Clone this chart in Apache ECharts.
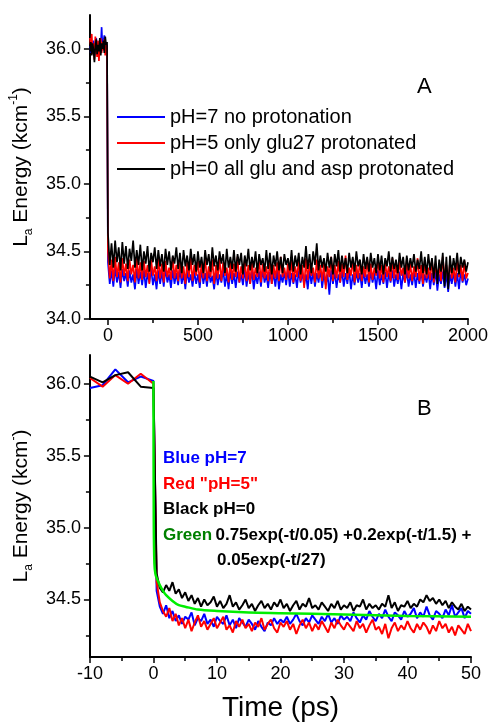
<!DOCTYPE html>
<html>
<head>
<meta charset="utf-8">
<script src="https://cdn.jsdelivr.net/npm/echarts@6/dist/echarts.min.js"></script>
<style>
  html, body { margin: 0; padding: 0; background: #fff; }
  #chart { width: 491px; height: 724px; }
</style>
</head>
<body>
<div id="chart"></div>
<script>
// panel A: -100..-5 ps every 5 ps, then 0..2000 ps every 10 ps
const blueApre = [36.02,35.97,36.05,35.99,36.06,35.95,36.03,36.08,35.98,36.04,35.96,36.07,36.01,36.16,35.99,36.05,36.10,35.98,36.04,36.02]
const redApre = [36.08,36.02,36.11,35.96,36.04,35.92,36.09,36.00,35.94,36.06,35.91,36.03,36.08,35.97,36.05,35.99,36.07,35.95,36.03,36.00]
const blackApre = [35.98,36.05,35.95,36.04,35.99,35.90,36.02,36.07,35.96,36.03,35.98,36.08,35.95,36.04,36.00,36.06,35.97,36.09,36.03,36.05]

const blueA = [34.42,34.26,34.36,34.24,34.38,34.27,34.35,34.23,34.37,34.28,
  34.34,34.24,34.36,34.27,34.33,34.22,34.37,34.26,34.35,34.25,
  34.36,34.23,34.34,34.27,34.37,34.25,34.33,34.22,34.36,34.26,
  34.35,34.24,34.38,34.27,34.33,34.23,34.36,34.26,34.34,34.25,
  34.37,34.26,34.34,34.22,34.36,34.27,34.33,34.24,34.35,34.26,
  34.33,34.23,34.37,34.26,34.34,34.24,34.36,34.27,34.32,34.22,
  34.35,34.25,34.33,34.27,34.37,34.24,34.34,34.22,34.36,34.26,
  34.34,34.23,34.35,34.27,34.33,34.25,34.37,34.24,34.34,34.26,
  34.36,34.22,34.33,34.26,34.35,34.24,34.37,34.27,34.33,34.23,
  34.35,34.26,34.34,34.24,34.36,34.22,34.33,34.27,34.35,34.25,
  34.37,34.24,34.34,34.26,34.33,34.23,34.36,34.27,34.34,34.25,
  34.33,34.22,34.36,34.26,34.35,34.24,34.34,34.27,34.37,34.23,
  34.34,34.25,34.33,34.18,34.36,34.26,34.35,34.23,34.33,34.27,
  34.36,34.24,34.34,34.26,34.37,34.22,34.33,34.25,34.35,34.27,
  34.34,34.23,34.36,34.26,34.33,34.24,34.35,34.27,34.34,34.22,
  34.36,34.25,34.33,34.26,34.35,34.23,34.34,34.27,34.36,34.24,
  34.33,34.26,34.35,34.22,34.34,34.27,34.36,34.24,34.33,34.25,
  34.35,34.23,34.34,34.26,34.36,34.24,34.33,34.27,34.35,34.22,
  34.34,34.25,34.36,34.21,34.33,34.26,34.35,34.23,34.34,34.20,
  34.33,34.26,34.35,34.24,34.34,34.22,34.36,34.27,34.33,34.25,
  34.30]
const redA = [34.50,34.30,34.44,34.28,34.46,34.31,34.42,34.27,34.45,34.32,
  34.41,34.28,34.44,34.33,34.40,34.27,34.46,34.30,34.42,34.29,
  34.43,34.31,34.40,34.26,34.44,34.32,34.39,34.28,34.45,34.30,
  34.41,34.27,34.43,34.31,34.38,34.29,34.46,34.30,34.40,34.28,
  34.44,34.30,34.39,34.26,34.42,34.31,34.45,34.28,34.40,34.32,
  34.43,34.27,34.41,34.30,34.46,34.28,34.39,34.31,34.44,34.26,
  34.40,34.30,34.45,34.28,34.42,34.32,34.38,34.27,34.43,34.29,
  34.41,34.31,34.46,34.27,34.39,34.30,34.44,34.28,34.40,34.26,
  34.43,34.29,34.38,34.31,34.45,34.27,34.41,34.30,34.39,34.28,
  34.44,34.26,34.40,34.30,34.42,34.28,34.46,34.31,34.38,34.29,
  34.41,34.30,34.44,34.27,34.39,34.31,34.43,34.28,34.40,34.23,
  34.45,34.29,34.41,34.32,34.38,34.27,34.44,34.30,34.40,34.28,
  34.42,34.22,34.39,34.31,34.46,34.28,34.40,34.30,34.43,34.27,
  34.41,34.31,34.47,34.29,34.38,34.32,34.44,34.27,34.40,34.30,
  34.43,34.28,34.39,34.31,34.45,34.27,34.41,34.29,34.38,34.32,
  34.44,34.30,34.40,34.27,34.42,34.31,34.39,34.28,34.45,34.30,
  34.40,34.29,34.43,34.32,34.38,34.27,34.44,34.30,34.41,34.28,
  34.39,34.31,34.45,34.28,34.40,34.26,34.43,34.30,34.38,34.29,
  34.44,34.27,34.41,34.31,34.39,34.28,34.46,34.30,34.40,34.26,
  34.42,34.30,34.38,34.27,34.44,34.31,34.40,34.28,34.43,34.30,
  34.34]
const blackA = [34.64,34.40,34.56,34.38,34.58,34.42,34.53,34.36,34.57,34.41,
  34.54,34.37,34.52,34.43,34.58,34.38,34.51,34.40,34.55,34.36,
  34.50,34.41,34.54,34.35,34.49,34.42,34.53,34.37,34.51,34.39,
  34.48,34.35,34.52,34.40,34.50,34.36,34.47,34.41,34.53,34.37,
  34.49,34.34,34.51,34.39,34.47,34.36,34.52,34.40,34.48,34.35,
  34.50,34.38,34.46,34.34,34.51,34.40,34.48,34.35,34.53,34.39,
  34.47,34.36,34.50,34.41,34.48,34.34,34.52,34.38,34.46,34.37,
  34.51,34.35,34.48,34.40,34.49,34.33,34.47,34.39,34.52,34.36,
  34.46,34.38,34.50,34.34,34.48,34.40,34.45,34.35,34.51,34.37,
  34.49,34.33,34.47,34.39,34.50,34.36,34.46,34.34,34.48,34.40,
  34.45,34.36,34.51,34.35,34.47,34.39,34.49,34.33,34.46,34.38,
  34.54,34.37,34.48,34.34,34.50,34.40,34.56,34.36,34.47,34.38,
  34.45,34.35,34.49,34.38,34.46,34.33,34.48,34.39,34.51,34.35,
  34.47,34.37,34.45,34.34,34.49,34.38,34.46,34.35,34.50,34.39,
  34.44,34.33,34.48,34.37,34.46,34.35,34.49,34.38,34.45,34.34,
  34.48,34.36,34.47,34.33,34.45,34.39,34.50,34.35,34.46,34.37,
  34.44,34.34,34.49,34.38,34.46,34.33,34.47,34.36,34.45,34.38,
  34.48,34.35,34.44,34.37,34.50,34.34,34.46,34.33,34.48,34.36,
  34.45,34.30,34.47,34.26,34.44,34.35,34.49,34.24,34.46,34.22,
  34.47,34.34,34.45,34.36,34.49,34.33,34.46,34.38,34.44,34.35,
  34.42]

// panel B: -10..0 ps every 2 ps, then 0.5..50 ps every 0.5 ps
const timesBpre = [-10,-8,-6,-4,-2,0]
const blueBpre = [35.97,35.99,36.10,36.01,36.05,36.02]
const redBpre = [36.04,35.98,36.06,36.00,36.07,36.00]
const blackBpre = [36.05,36.01,36.06,36.08,35.98,35.97]

const blueB = [34.56,34.45,34.40,34.46,34.37,34.42,34.35,34.39,34.33,34.38,
  34.36,34.41,34.32,34.37,34.35,34.40,34.33,34.36,34.31,34.38,
  34.35,34.33,34.39,34.32,34.36,34.30,34.37,34.34,34.31,34.36,
  34.33,34.29,34.35,34.31,34.28,34.34,34.32,34.37,34.33,34.36,
  34.34,34.38,34.33,34.36,34.40,34.35,34.32,34.37,34.34,34.39,
  34.36,34.33,34.38,34.35,34.40,34.34,34.37,34.33,34.39,34.36,
  34.38,34.35,34.41,34.37,34.34,34.39,34.36,34.42,34.38,34.35,
  34.40,34.37,34.43,34.38,34.35,34.41,34.39,34.36,34.42,34.38,
  34.40,34.44,34.37,34.41,34.38,34.45,34.39,34.36,34.42,34.40,
  34.37,34.43,34.39,34.46,34.38,34.41,34.44,34.37,34.42,34.40]
const redB = [34.62,34.48,34.42,34.38,34.44,34.35,34.40,34.32,34.37,34.30,
  34.36,34.28,34.34,34.39,34.31,34.35,34.29,34.33,34.37,34.30,
  34.34,34.38,34.29,34.32,34.27,34.35,34.31,34.36,34.30,34.33,
  34.28,34.34,34.31,34.37,34.29,34.33,34.36,34.30,34.27,34.34,
  34.31,34.35,34.29,34.33,34.26,34.32,34.36,34.30,34.34,34.28,
  34.33,34.29,34.35,34.31,34.27,34.34,34.30,34.36,34.32,34.29,
  34.34,34.31,34.28,34.35,34.30,34.33,34.27,34.32,34.36,34.29,
  34.31,34.26,34.33,34.23,34.30,34.34,34.28,34.32,34.29,34.35,
  34.30,34.27,34.33,34.29,34.34,34.31,34.26,34.32,34.28,34.35,
  34.30,34.33,34.27,34.31,34.25,34.32,34.29,34.26,34.33,34.28]
const blackB = [34.68,34.58,34.55,34.60,34.56,34.62,34.54,34.57,34.51,34.55,
  34.49,34.53,34.47,34.51,34.45,34.50,34.46,34.48,34.52,34.45,
  34.49,34.44,34.47,34.53,34.45,34.48,34.43,34.46,34.50,34.44,
  34.47,34.42,34.46,34.49,34.44,34.47,34.43,34.48,34.45,34.50,
  34.44,34.47,34.42,34.46,34.49,34.43,34.47,34.45,34.51,34.44,
  34.46,34.43,34.48,34.45,34.42,34.47,34.44,34.49,34.43,34.46,
  34.44,34.48,34.42,34.46,34.45,34.50,34.43,34.47,34.44,34.46,
  34.43,34.47,34.45,34.53,34.44,34.48,34.42,34.46,34.45,34.49,
  34.44,34.47,34.45,34.50,34.48,34.53,34.49,34.51,34.47,34.50,
  34.46,34.49,34.44,34.48,34.45,34.43,34.47,34.42,34.45,34.43]

// green fit curve
const greenT = [0, 0.05, 0.15, 0.3, 0.5, 1, 1.5, 2, 3, 4, 5, 7, 10, 15, 20, 30, 40, 50]
const greenV = [36.02, 35.05, 34.75, 34.68, 34.65, 34.60, 34.56, 34.53, 34.49, 34.46, 34.45, 34.43, 34.42, 34.41, 34.405, 34.395, 34.385, 34.38]

const ticksAx = [0, 500, 1000, 1500, 2000]
const minorAx = [250, 750, 1250, 1750]
const ticksBx = [-10, 0, 10, 20, 30, 40, 50]
const minorBx = [-5, 5, 15, 25, 35, 45]
const ticksAy = [34.0, 34.5, 35.0, 35.5, 36.0]
const ticksBy = [34.5, 35.0, 35.5, 36.0]
const minorY = [34.25, 34.75, 35.25, 35.75]

const FONT = '"Liberation Sans", Arial, sans-serif'

function steps (t0, dt, vals) {
  return vals.map((v, i) => [t0 + i * dt, v])
}
function zip (ts, vals) {
  return vals.map((v, i) => [ts[i], v])
}

const chart = echarts.init(document.getElementById('chart'), null, { renderer: 'canvas' })

function yName (sup) {
  return {
    name: '{n|L}{s|a}{n| Energy (kcm}{p|' + sup + '}{n|)}',
    nameLocation: 'middle',
    nameRotate: 90,
    nameGap: 40,
    nameTextStyle: {
      rich: {
        n: { fontSize: 21, fontFamily: FONT, color: '#000', lineHeight: 27 },
        s: { fontSize: 12, fontFamily: FONT, color: '#000', lineHeight: 12, verticalAlign: 'bottom' },
        p: { fontSize: 12, fontFamily: FONT, color: '#000', lineHeight: 12, verticalAlign: 'top' }
      }
    }
  }
}

function mainX (grid, min, max, ticks, extra) {
  return Object.assign({
    gridIndex: grid, type: 'value', min: min, max: max, position: 'bottom',
    axisLine: { show: true, onZero: false, lineStyle: { color: '#000', width: 2 } },
    axisTick: { show: true, customValues: ticks, length: 6, lineStyle: { color: '#000', width: 1.5 } },
    axisLabel: {
      customValues: ticks, fontSize: 18, fontFamily: FONT, color: '#000', margin: 8,
      formatter: v => String(v)
    },
    splitLine: { show: false }
  }, extra || {})
}
function minorX (grid, min, max, ticks) {
  return {
    gridIndex: grid, type: 'value', min: min, max: max, position: 'bottom',
    axisLine: { show: false, onZero: false },
    axisTick: { show: true, customValues: ticks, length: 4, lineStyle: { color: '#000', width: 1.5 } },
    axisLabel: { show: false },
    splitLine: { show: false }
  }
}
function mainY (grid, min, max, ticks, sup) {
  return Object.assign({
    gridIndex: grid, type: 'value', min: min, max: max, position: 'left',
    axisLine: { show: true, onZero: false, lineStyle: { color: '#000', width: 2 } },
    axisTick: { show: true, customValues: ticks, length: 6, lineStyle: { color: '#000', width: 1.5 } },
    axisLabel: {
      customValues: ticks, fontSize: 18, fontFamily: FONT, color: '#000', margin: 9,
      formatter: v => Number(v).toFixed(1)
    },
    splitLine: { show: false }
  }, yName(sup))
}
function minorY_ (grid, min, max) {
  return {
    gridIndex: grid, type: 'value', min: min, max: max, position: 'left',
    axisLine: { show: false, onZero: false },
    axisTick: { show: true, customValues: minorY, length: 4, lineStyle: { color: '#000', width: 1.5 } },
    axisLabel: { show: false },
    splitLine: { show: false }
  }
}

function line (name, color, data, xi, yi, width) {
  return {
    name: name, type: 'line', data: data, xAxisIndex: xi, yAxisIndex: yi,
    showSymbol: false, symbol: 'none', sampling: null,
    lineStyle: { color: color, width: width || 1.5 },
    itemStyle: { color: color }
  }
}

const boldText = (fill) => ({ fill: fill, fontSize: 17, fontWeight: 'bold', fontFamily: FONT, lineHeight: 25.5 })

chart.setOption({
  animation: false,
  backgroundColor: '#fff',
  grid: [
    { left: 86, top: 15, width: 385, height: 304 },
    { left: 86, top: 355, width: 385, height: 302 }
  ],
  legend: {
    data: ['pH=7 no protonation', 'pH=5 only glu27 protonated', 'pH=0 all glu and asp protonated'],
    orient: 'vertical',
    left: 117,
    top: 107,
    padding: 0,
    icon: 'rect',
    itemWidth: 48,
    itemHeight: 2,
    itemGap: 6,
    selectedMode: false,
    textStyle: { fontSize: 20, fontFamily: FONT, color: '#000' }
  },
  xAxis: [
    mainX(0, -100, 2000, ticksAx),
    minorX(0, -100, 2000, minorAx),
    mainX(1, -10, 50, ticksBx, {
      name: 'Time (ps)', nameLocation: 'middle', nameGap: 37,
      nameTextStyle: { fontSize: 28, fontFamily: FONT, color: '#000' }
    }),
    minorX(1, -10, 50, minorBx)
  ],
  yAxis: [
    mainY(0, 34.0, 36.25, ticksAy, '-1'),
    minorY_(0, 34.0, 36.25),
    mainY(1, 34.1, 36.2, ticksBy, '-'),
    minorY_(1, 34.1, 36.2)
  ],
  series: [
    line('pH=7 no protonation', '#0000ff', steps(-100, 5, blueApre).concat(steps(0, 10, blueA)), 0, 0, 1.7),
    line('pH=5 only glu27 protonated', '#ff0000', steps(-100, 5, redApre).concat(steps(0, 10, redA)), 0, 0, 1.7),
    line('pH=0 all glu and asp protonated', '#000000', steps(-100, 5, blackApre).concat(steps(0, 10, blackA)), 0, 0, 1.7),
    line('Blue pH=7', '#0000ff', zip(timesBpre, blueBpre).concat(steps(0.5, 0.5, blueB)), 2, 2, 2),
    line('Red pH=5', '#ff0000', zip(timesBpre, redBpre).concat(steps(0.5, 0.5, redB)), 2, 2, 2),
    line('Black pH=0', '#000000', zip(timesBpre, blackBpre).concat(steps(0.5, 0.5, blackB)), 2, 2, 2),
    Object.assign(line('Green fit', '#00ee00', zip(greenT, greenV), 2, 2, 2.5), { smooth: 0.3 })
  ],
  graphic: [
    { type: 'text', left: 417, top: 76, style: { text: 'A', fontSize: 22, fontFamily: FONT, fill: '#000' } },
    { type: 'text', left: 417, top: 398, style: { text: 'B', fontSize: 22, fontFamily: FONT, fill: '#000' } },
    {
      type: 'text', left: 163, top: 450,
      style: {
        text: '{b|Blue pH=7}\n{r|Red "pH=5"}\n{k|Black pH=0}\n{g|Green} {k|0.75exp(-t/0.05) +0.2exp(-t/1.5) +}',
        rich: { b: boldText('#0000ff'), r: boldText('#ff0000'), k: boldText('#000000'), g: boldText('#008000') }
      }
    },
    {
      type: 'text', left: 217, top: 552,
      style: { text: '0.05exp(-t/27)', fill: '#000', fontSize: 17, fontWeight: 'bold', fontFamily: FONT }
    }
  ]
})
</script>
</body>
</html>
